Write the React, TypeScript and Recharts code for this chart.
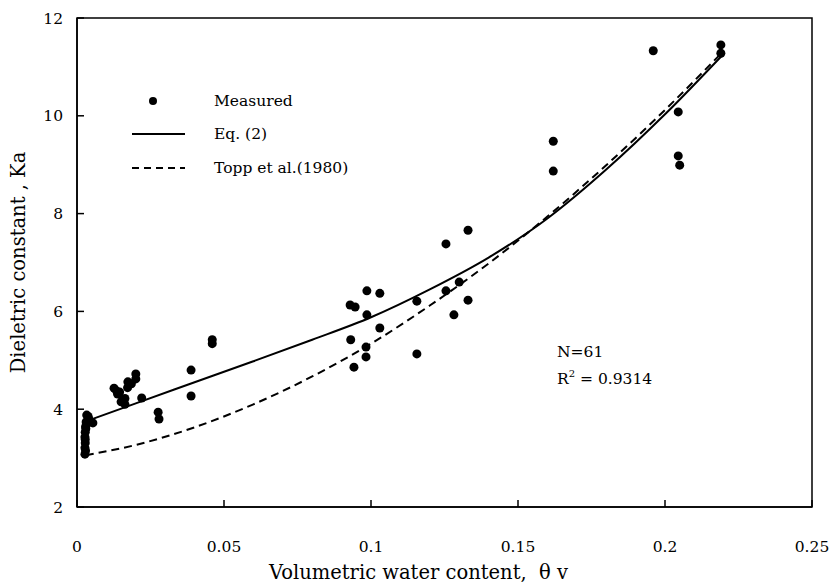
import {
  ComposedChart,
  Customized,
  Label,
  Line,
  ReferenceArea,
  Scatter,
  XAxis,
  YAxis,
} from "recharts";

// measured points (theta v, Ka)
const measuredTheta = [
  0.0027, 0.0027, 0.0028, 0.0027, 0.0028, 0.0029, 0.0031, 0.0033, 0.004, 0.0054,
  0.0029, 0.0028, 0.003, 0.0034, 0.0038,
  0.0126, 0.0135, 0.0138, 0.015, 0.0163, 0.0163, 0.0173, 0.0172, 0.0185, 0.02, 0.02, 0.022,
  0.0145, 0.0155,
  0.0276, 0.0279, 0.0388, 0.0388, 0.046, 0.046,
  0.0929, 0.0942, 0.0946, 0.0931, 0.0986, 0.0986, 0.0983, 0.0983, 0.103, 0.103,
  0.1156, 0.1156, 0.1255, 0.1255, 0.1282, 0.13, 0.133, 0.133,
  0.162, 0.162, 0.196, 0.2045, 0.2045, 0.205, 0.219, 0.219,
];
const measuredKa = [
  3.08, 3.21, 3.31, 3.43, 3.53, 3.64, 3.74, 3.88, 3.8, 3.72,
  3.15, 3.38, 3.6, 3.7, 3.85,
  4.43, 4.37, 4.31, 4.15, 4.1, 4.22, 4.56, 4.44, 4.52, 4.72, 4.62, 4.23,
  4.35, 4.18,
  3.94, 3.8, 4.8, 4.27, 5.42, 5.34,
  6.13, 4.86, 6.09, 5.42, 6.42, 5.93, 5.27, 5.07, 6.37, 5.66,
  6.21, 5.13, 7.38, 6.42, 5.93, 6.6, 7.66, 6.23,
  9.48, 8.87, 11.33, 10.08, 9.18, 8.99, 11.45, 11.28,
];

// fitted curves
const curveTheta = [0.003, 0.02, 0.04, 0.06, 0.08, 0.1, 0.12, 0.14, 0.16, 0.18, 0.2, 0.22];
const eq2Ka = [3.75, 4.12, 4.55, 4.98, 5.42, 5.88, 6.45, 7.1, 7.9, 8.9, 10.03, 11.27];
const toppKa = [3.06, 3.27, 3.63, 4.1, 4.67, 5.34, 6.12, 6.98, 7.94, 8.99, 10.12, 11.33];

const xTicks = [0, 0.05, 0.1, 0.15, 0.2, 0.25];
const yTicks = [2, 4, 6, 8, 10, 12];

const measured = measuredTheta.map((x, i) => ({ x, y: measuredKa[i] }));
const eq2 = curveTheta.map((x, i) => ({ x, y: eq2Ka[i] }));
const topp = curveTheta.map((x, i) => ({ x, y: toppKa[i] }));

const FONT = "'DejaVu Serif', serif";
const tickStyle = { fill: "#000", fontSize: 15.5, fontFamily: FONT };

function Notes() {
  const t = { fontFamily: FONT, fontSize: 15.5, fill: "#000" };
  return (
    <g>
      <circle cx={153} cy={101} r={4} fill="#000" />
      <text x={214} y={106} {...t}>Measured</text>
      <line x1={132} x2={185} y1={134} y2={134} stroke="#000" strokeWidth={2} />
      <text x={214} y={139} {...t}>Eq. (2)</text>
      <line
        x1={132}
        x2={185}
        y1={168}
        y2={168}
        stroke="#000"
        strokeWidth={2}
        strokeDasharray="7 5"
      />
      <text x={214} y={173} {...t}>Topp et al.(1980)</text>
      <text x={557} y={357} {...t}>N=61</text>
      <text x={557} y={384} {...t}>
        R<tspan dy={-7} fontSize={10}>2</tspan>
        <tspan dy={7}> = 0.9314</tspan>
      </text>
    </g>
  );
}

export default function App() {
  return (
    <div style={{ position: "absolute", left: 0, top: 0, background: "#fff" }}>
      <ComposedChart
        width={830}
        height={587}
        margin={{ top: 18, right: 18, bottom: 0, left: 0 }}
      >
        <XAxis
          type="number"
          dataKey="x"
          domain={[0, 0.25]}
          ticks={xTicks}
          height={80}
          axisLine={{ stroke: "#000", strokeWidth: 1.5 }}
          tickLine={{ stroke: "#000", strokeWidth: 1.5 }}
          tickSize={-7}
          tickMargin={41}
          tick={tickStyle}
          interval={0}
        >
          <Label
            value={"Volumetric water content,\u00a0\u00a0θ v"}
            position="insideBottom"
            offset={8}
            dx={-26}
            style={{ fill: "#000", fontSize: 19.5, fontFamily: FONT }}
          />
        </XAxis>
        <YAxis
          type="number"
          dataKey="y"
          domain={[2, 12]}
          ticks={yTicks}
          width={77}
          axisLine={{ stroke: "#000", strokeWidth: 1.5 }}
          tickLine={{ stroke: "#000", strokeWidth: 1.5 }}
          tickSize={-7}
          tickMargin={21}
          tick={tickStyle}
          interval={0}
        >
          <Label
            value="Dieletric constant , Ka"
            angle={-90}
            position="insideLeft"
            offset={18}
            style={{ fill: "#000", fontSize: 19.5, fontFamily: FONT, textAnchor: "middle" }}
          />
        </YAxis>
        <ReferenceArea
          x1={0}
          x2={0.25}
          y1={2}
          y2={12}
          fill="none"
          stroke="#000"
          strokeWidth={1.5}
        />
        <Line
          data={eq2}
          dataKey="y"
          type="monotone"
          stroke="#000"
          strokeWidth={2}
          dot={false}
          isAnimationActive={false}
        />
        <Line
          data={topp}
          dataKey="y"
          type="monotone"
          stroke="#000"
          strokeWidth={2}
          strokeDasharray="8 5"
          dot={false}
          isAnimationActive={false}
        />
        <Scatter
          data={measured}
          dataKey="y"
          fill="#000"
          shape={(p: any) => <circle cx={p.cx} cy={p.cy} r={4.5} fill="#000" />}
          isAnimationActive={false}
        />
        <Customized component={Notes} />
      </ComposedChart>
    </div>
  );
}
